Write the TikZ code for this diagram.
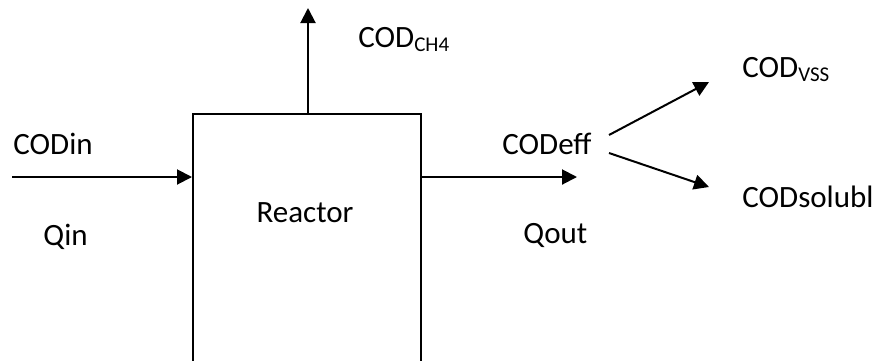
\documentclass[tikz,border=0pt]{standalone}
\usepackage{fontspec}
\setmainfont{Carlito}
\usepackage{tikz}
\usetikzlibrary{arrows.meta, positioning, calc}

\newcommand{\wsub}[1]{\raisebox{-2pt}{\fontsize{10.5}{12}\selectfont #1}}

\begin{document}
\begin{tikzpicture}[
  x=0.5pt, y=-0.5pt,
  every node/.style = {font=\fontsize{15.5}{18}\selectfont},
  lbl/.style  = {inner sep=0pt, anchor=base west},
  tank/.style = {draw, line width=1pt, anchor=north west,
                 minimum width=114pt, minimum height=150pt},
  arr/.style  = {-{Triangle[length=7.5pt, width=7.5pt]}, line width=1pt},
]
\clip (0,0) rectangle (877,360);

% Reactor box (runs below the page)
\node[tank] (reactor) at (192,113) {};
\node[inner sep=0pt, anchor=base] (rlabel) at (305,222) {Reactor};

% Labels
\node[lbl] (codin)  at (13,154)  {CODin};
\node[lbl] (qin)    at (43,245)  {Qin};
\node[lbl] (codch4) at (358,47)  {COD\wsub{CH4}};
\node[lbl] (codeff) at (502,154) {CODeff};
\node[lbl] (qout)   at (523,243) {Qout};
\node[lbl] (codvss) at (742,77)  {COD\wsub{VSS}};
\node[lbl] (codsol) at (742,207) {CODsolubl};

% Free ends
\coordinate (in)    at (12,177);
\coordinate (gas)   at (308,8);
\coordinate (eff)   at (577,177);
\coordinate (splA)  at (609,135);
\coordinate (splB)  at (609,153);
\coordinate (vss)   at (709,82);
\coordinate (sol)   at (709,187);

% Arrows
\draw[arr] (in) -- (reactor.west |- in);
\draw[arr] (gas |- reactor.north) -- (gas);
\draw[arr] (reactor.east |- eff) -- (eff);
\draw[arr] (splA) -- (vss);
\draw[arr] (splB) -- (sol);
\end{tikzpicture}
\end{document}
